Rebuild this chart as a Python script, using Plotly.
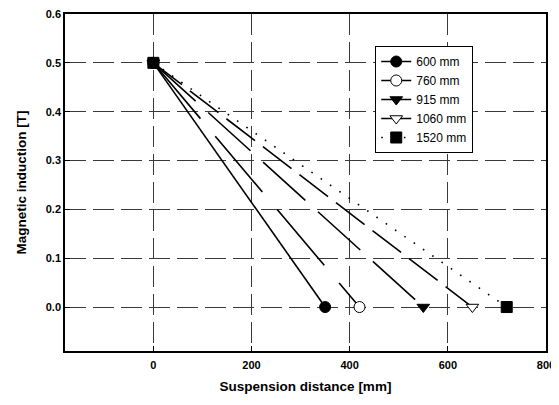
import plotly.graph_objects as go

labels = ["600 mm", "760 mm", "915 mm", "1060 mm", "1520 mm"]
x_start = [0, 0, 0, 0, 0]
y_start = [0.5, 0.5, 0.5, 0.5, 0.5]
x_end = [350, 420, 550, 650, 720]
y_end = [0.0, 0.0, 0.0, 0.0, 0.0]
symbols = ["circle", "circle", "triangle-down", "triangle-down", "square"]
fills = ["black", "white", "black", "white", "black"]
dashes = ["solid", "73px,23px", "57px,17px", "36px,10px", "1.6px,9.7px"]
x_ticks = [0, 200, 400, 600, 800]
y_ticks = [0.0, 0.1, 0.2, 0.3, 0.4, 0.5, 0.6]

fig = go.Figure()
for i, lab in enumerate(labels):
    fig.add_trace(go.Scatter(
        x=[x_start[i], x_end[i]], y=[y_start[i], y_end[i]],
        mode="lines+markers", name=lab,
        line=dict(color="black", width=1.6, dash=dashes[i]),
        marker=dict(symbol=symbols[i], size=11, color=fills[i],
                    line=dict(color="black", width=1)),
    ))

font = "Liberation Sans, Arial, sans-serif"
axis_common = dict(
    showline=True, linecolor="black", linewidth=1.5, mirror=True,
    ticks="inside", ticklen=5, tickcolor="black", tickwidth=1,
    showgrid=True, gridcolor="#3a3a3a", gridwidth=1.3, griddash="21px,7px",
    zeroline=False, automargin=False, ticklabeloverflow="allow",
    tickfont=dict(family=font, size=11, color="black", weight="bold"),
)
fig.update_xaxes(range=[-180, 800], tickvals=x_ticks, ticktext=[str(v) for v in x_ticks],
                 ticklabelstandoff=3,
                 title=dict(text="Suspension distance [mm]", font=dict(family=font, size=13.5, color="black", weight="bold"), standoff=12),
                 **axis_common)
fig.update_yaxes(range=[-0.09, 0.6], tickvals=y_ticks, ticktext=[f"{v:.1f}" for v in y_ticks],
                 title=dict(text="Magnetic induction [T]", font=dict(family=font, size=13.5, color="black", weight="bold"), standoff=16),
                 **axis_common)
# page body has an 8px default margin, so the figure is sized/offset to compensate
fig.update_layout(
    width=551, height=397,
    margin=dict(l=57, r=13, t=6, b=54),
    plot_bgcolor="white", paper_bgcolor="white",
    legend=dict(x=0.645, y=0.905, xanchor="left", yanchor="top",
                bordercolor="black", borderwidth=1, bgcolor="white",
                font=dict(family=font, size=12, color="black"),
                tracegroupgap=0, itemwidth=30),
)
fig.write_html("out.html")
